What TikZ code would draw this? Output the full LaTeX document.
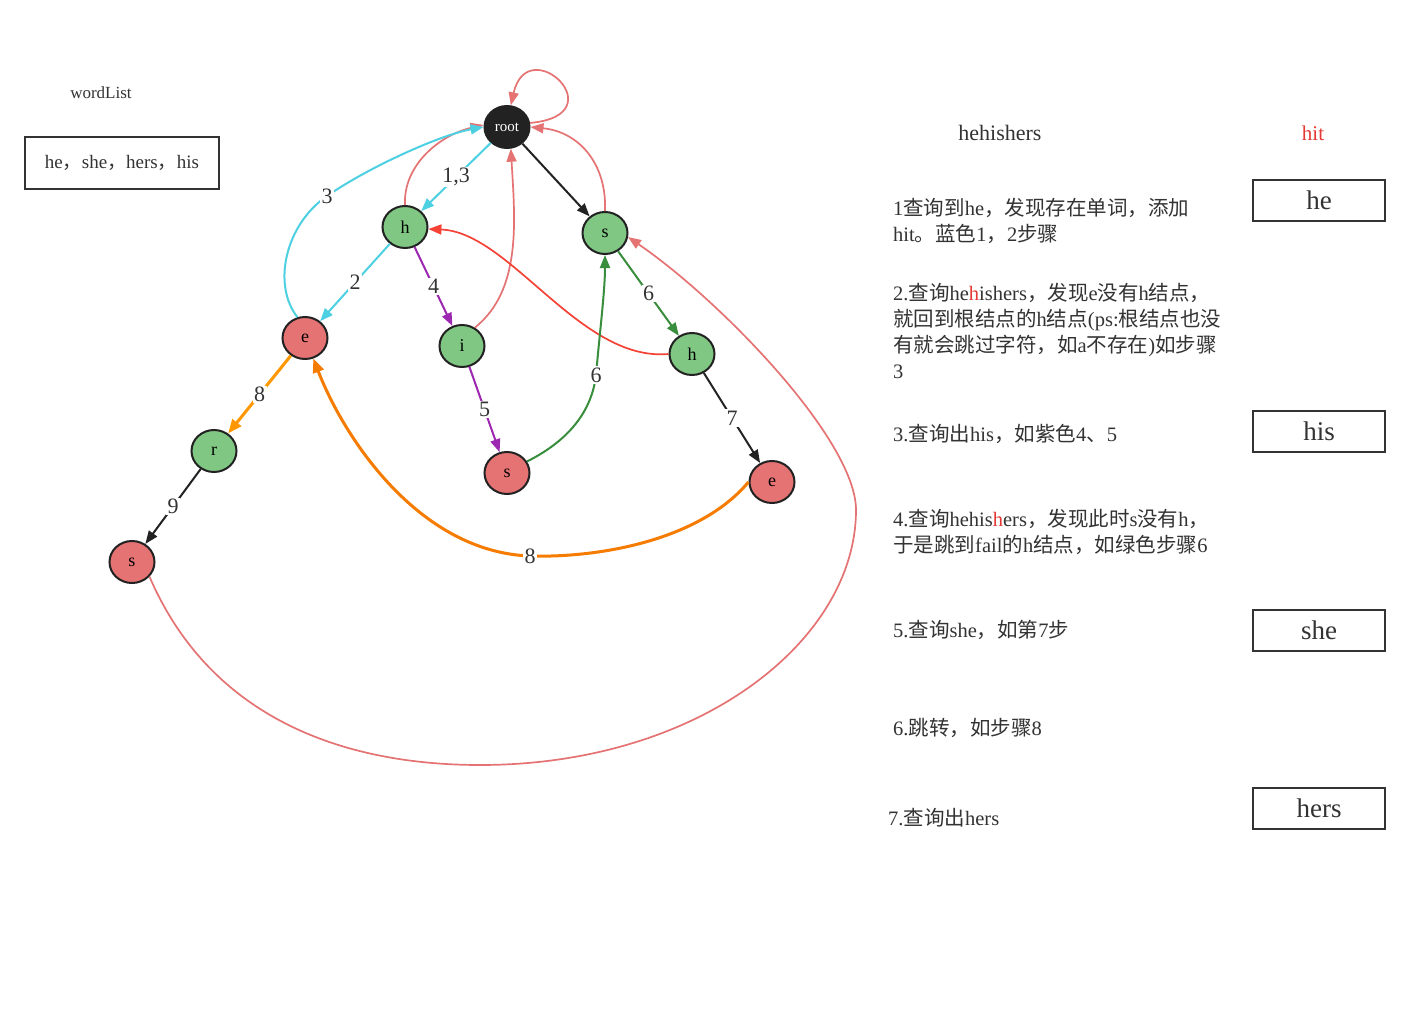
\documentclass[tikz,border=0pt]{standalone}
\usepackage{fontspec}
\setmainfont{Liberation Serif}
\newfontfamily\cjk{Noto Sans CJK SC}
\usetikzlibrary{arrows.meta,shapes.geometric}
\newcommand\zh[1]{{\cjk #1}}
\definecolor{pinkc}{HTML}{E57373}
\definecolor{grnfill}{HTML}{81C784}
\definecolor{dkc}{HTML}{222222}
\definecolor{txtc}{HTML}{333333}
\definecolor{cyanc}{HTML}{4DD0E1}
\definecolor{purc}{HTML}{9C27B0}
\definecolor{grnc}{HTML}{388E3C}
\definecolor{redc}{HTML}{F44336}
\definecolor{orgc}{HTML}{F57C00}
\definecolor{orgb}{HTML}{FF9800}
\definecolor{redtxt}{HTML}{E53935}
\begin{document}
\begin{tikzpicture}[x=1pt,y=-1pt,
  tnode/.style={ellipse, draw=dkc, line width=2pt, minimum width=45pt, minimum height=42pt, inner sep=0pt, font=\fontsize{18}{18}\selectfont},
  gnode/.style={tnode, fill=grnfill},
  rnode/.style={tnode, fill=pinkc},
  edge/.style={line width=2pt, -{Triangle[length=13pt,width=10pt]}},
  thinedge/.style={edge, line width=1.7pt},
  elabel/.style={fill=white, inner sep=1.5pt, text=txtc, font=\fontsize{22}{22}\selectfont},
  steptext/.style={anchor=west, align=left, inner sep=0pt, text=txtc, font=\fontsize{20.5}{26}\selectfont},
  wbox/.style={draw=txtc, line width=2pt, minimum width=132pt, minimum height=41pt, inner sep=0pt, text=txtc, font=\fontsize{27}{27}\selectfont}
]
\useasboundingbox[fill=white] (0,0) rectangle (1409,1033);

% nodes
\node[tnode, fill=dkc, text=white, font=\fontsize{15}{15}\selectfont] (root) at (507,127) {root};
\node[gnode] (h1) at (405,227) {h};
\node[gnode] (s1) at (605,233) {s};
\node[rnode] (e1) at (305,338) {e};
\node[gnode] (i) at (462,346) {i};
\node[gnode] (h2) at (692,354) {h};
\node[gnode] (r) at (214,451) {r};
\node[rnode] (s2) at (507,473) {s};
\node[rnode] (e2) at (772,482) {e};
\node[rnode] (s3) at (132,562) {s};

% pink fail links
\draw[thinedge, pinkc] (root.10) .. controls (618,115) and (528,30) .. (root.80);
\draw[thinedge, pinkc] (s1.north) .. controls (607,165) and (580,132) .. (root.east);
\draw[thinedge, pinkc] (h1.north) .. controls (403,165) and (440,135) .. (root.175);
\draw[thinedge, pinkc] (i.55) .. controls (522,290) and (515,220) .. (root.-80);
\draw[thinedge, pinkc] (s3.-40) .. controls (220,740) and (380,765) .. (480,765)
  .. controls (700,765) and (856,640) .. (856,510)
  .. controls (856,440) and (720,300) .. (s1.-10);

% red
\draw[thinedge, redc] (h2.west) .. controls (580,362) and (510,232) .. (h1.-5);

% dark tree edges
\draw[edge, dkc] (root) -- (s1);
\draw[edge, dkc] (h2) -- node[elabel]{7} (e2);
\draw[edge, dkc] (r) -- node[elabel]{9} (s3);

% cyan
\draw[edge, cyanc] (root) -- node[elabel]{1,3} (h1);
\draw[edge, cyanc] (h1) -- node[elabel]{2} (e1);
\draw[edge, cyanc] (e1.110) .. controls (272,285) and (285,225) .. (327,196) node[elabel]{3}
  .. controls (369,167) and (440,135) .. (root.west);

% purple
\draw[edge, purc] (h1) -- node[elabel]{4} (i);
\draw[edge, purc] (i) -- node[elabel]{5} (s2);

% green
\draw[edge, grnc] (s1) -- node[elabel]{6} (h2);
\draw[edge, grnc] (s2.30) .. controls (570,440) and (592,410) .. (596,375) node[elabel]{6}
  .. controls (600,330) and (605,290) .. (s1.south);

% orange
\draw[edge, orgb, line width=3pt, -{Triangle[length=14pt,width=11pt]}] (e1) -- node[elabel]{8} (r);
\draw[edge, orgc, line width=3pt, -{Triangle[length=14pt,width=11pt]}] (e2.west) .. controls (700,540) and (600,558) .. (530,556) node[elabel]{8}
  .. controls (420,552) and (345,440) .. (e1.-68);

% left word list
\node[text=txtc, font=\fontsize{17}{17}\selectfont] (wl) at (101,93) {wordList};
\node[draw=txtc, line width=2pt, minimum width=194pt, minimum height=52pt, inner sep=0pt, text=txtc, font=\fontsize{19}{19}\selectfont] (wlbox) at (122,163) {he\zh{，}she\zh{，}hers\zh{，}his};

% right column
\node[text=txtc, font=\fontsize{22}{22}\selectfont] (hh) at (1000,133) {hehishers};
\node[text=redtxt, font=\fontsize{21}{21}\selectfont] (hit) at (1313,133) {hit};

\node[steptext] (st1) at (893,221) {1\zh{查询到}he\zh{，发现存在单词，添加}\\hit\zh{。蓝色}1\zh{，}2\zh{步骤}};
\node[steptext] (st2) at (893,331) {2.\zh{查询}he\textcolor{redtxt}{h}ishers\zh{，发现}e\zh{没有}h\zh{结点，}\\\zh{就回到根结点的}h\zh{结点}(ps:\zh{根结点也没}\\\zh{有就会跳过字符，如}a\zh{不存在})\zh{如步骤}\\3};
\node[steptext] (st3) at (893,434) {3.\zh{查询出}his\zh{，如紫色}4\zh{、}5};
\node[steptext] (st4) at (893,532) {4.\zh{查询}hehis\textcolor{redtxt}{h}ers\zh{，发现此时}s\zh{没有}h\zh{，}\\\zh{于是跳到}fail\zh{的}h\zh{结点，如绿色步骤}6};
\node[steptext] (st5) at (893,630) {5.\zh{查询}she\zh{，如第}7\zh{步}};
\node[steptext] (st6) at (893,728) {6.\zh{跳转，如步骤}8};
\node[steptext] (st7) at (888,818) {7.\zh{查询出}hers};

\node[wbox] (bhe) at (1319,200) {he};
\node[wbox] (bhis) at (1319,431) {his};
\node[wbox] (bshe) at (1319,630) {she};
\node[wbox] (bhers) at (1319,808) {hers};
\end{tikzpicture}
\end{document}
